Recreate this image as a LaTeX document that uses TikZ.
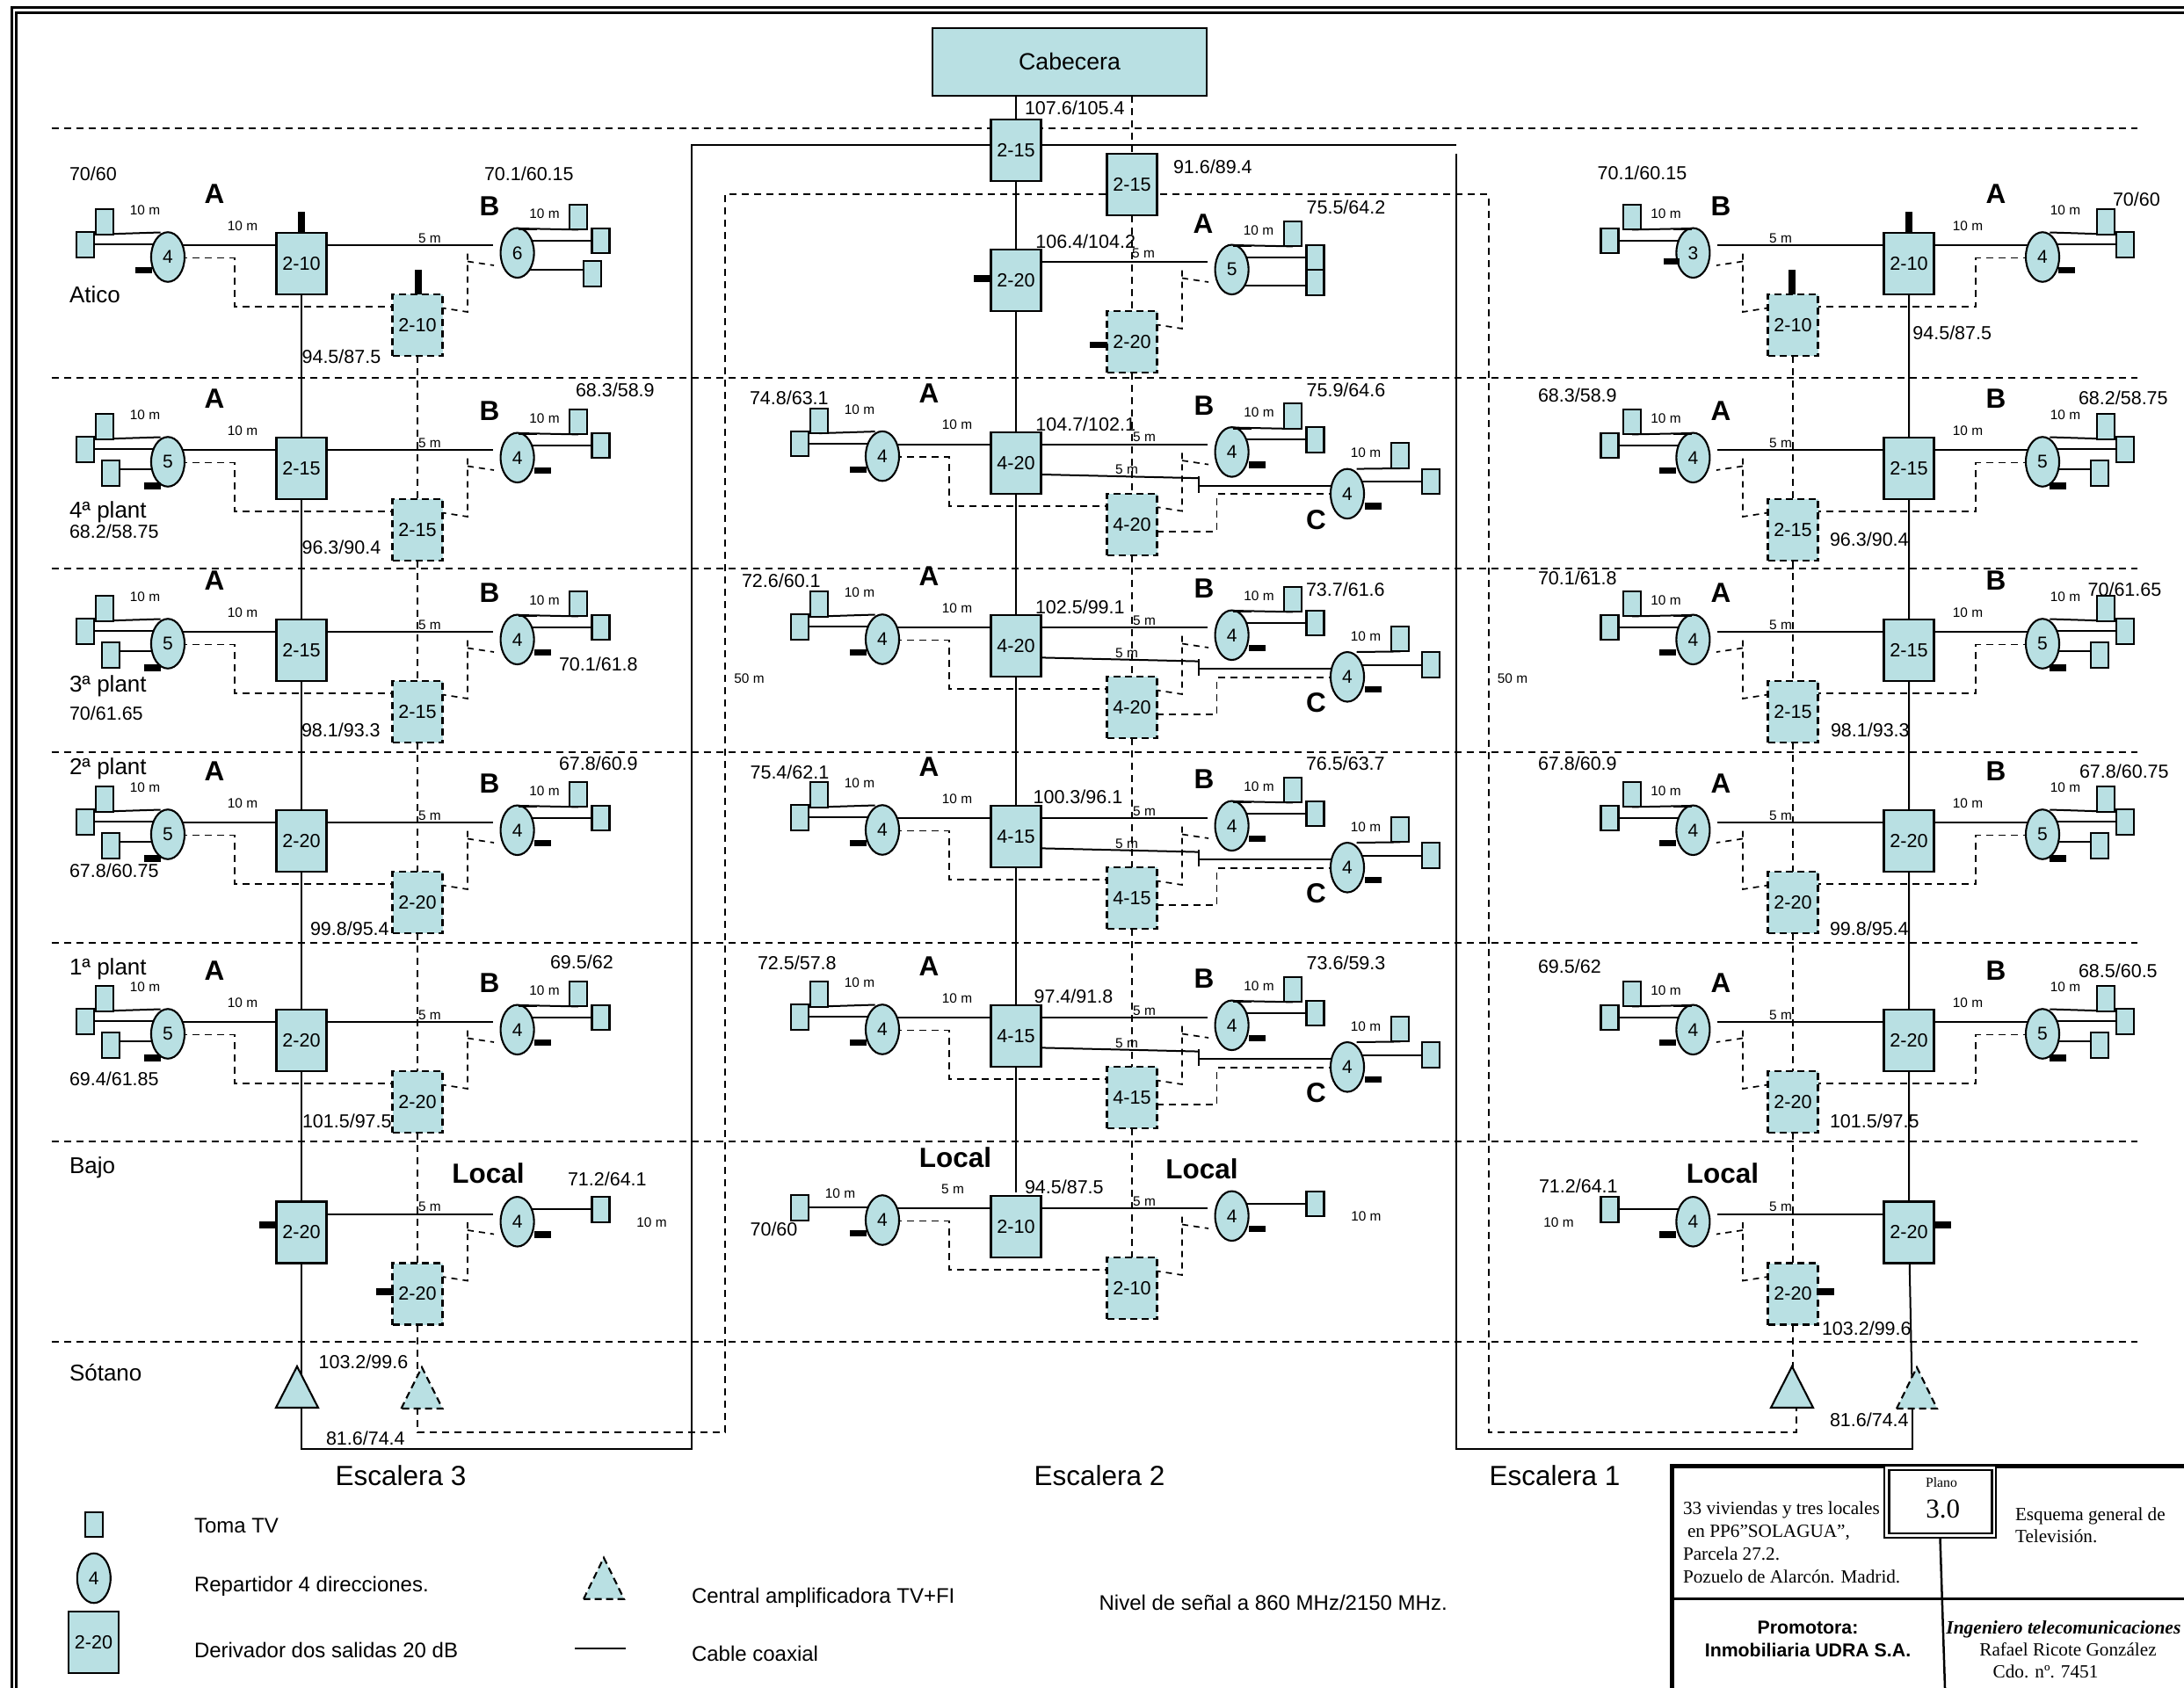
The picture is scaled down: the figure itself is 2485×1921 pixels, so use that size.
\documentclass[tikz,border=0pt]{standalone}
\usepackage{fontspec}
\setmainfont{Liberation Sans}
\newfontfamily\timf{Liberation Serif}
\usetikzlibrary{calc}
\pgfdeclarelayer{background}
\pgfsetlayers{background,main}
\definecolor{teal1}{RGB}{185,224,227}
\newcounter{lbc}
\newcommand\Fs[1]{\fontsize{#1}{#1}\selectfont}
\tikzset{
  lab/.style={inner sep=0pt,outer sep=0pt,text depth=0pt,align=left},
  w/.style={line width=2pt,black},
  dsh/.style={line width=1.9pt,black,dash pattern=on 8pt off 6pt},
  thn/.style={line width=1.7pt,black,dash pattern=on 7pt off 6pt},
  mbox/.style={draw=black,line width=2.1pt,fill=teal1,minimum width=57pt,minimum height=70pt,inner sep=0pt,outer sep=0pt,font=\Fs{21.6}},
  dbox/.style={mbox,dash pattern=on 8pt off 5pt},
  sok/.style={draw=black,line width=2.1pt,fill=teal1,minimum width=20pt,minimum height=28.6pt,inner sep=0pt,outer sep=0pt},
  spl/.style={draw=black,line width=2.1pt,fill=teal1,ellipse,minimum width=38pt,minimum height=56.5pt,inner sep=0pt,outer sep=0pt,font=\Fs{21}},
  tri/.style={draw=black,line width=2.1pt,fill=teal1,line join=miter},
  dtri/.style={tri,dash pattern=on 8pt off 5pt},
}
\usetikzlibrary{shapes.geometric}
\newcommand\Wr[1]{\begin{pgfonlayer}{background}#1\end{pgfonlayer}}
\newcommand\LT[4]{\stepcounter{lbc}\node[lab,anchor=west] (t\arabic{lbc}) at (#1,#2) {\Fs{#3}#4};}
\newcommand\LV[3]{\LT{#1}{#2}{21.5}{#3}}
\newcommand\LM[3]{\stepcounter{lbc}\node[lab] (t\arabic{lbc}) at (#1,#2) {\Fs{15.4}#3};}
\newcommand\LH[3]{\stepcounter{lbc}\node[lab] (t\arabic{lbc}) at (#1,#2) {\Fs{31.5}\bfseries #3};}
\newcommand\Pair[2]{%
  \node[mbox] (#1m) at (343,35) {#2};
  \node[dbox] (#1d) at (475,105) {#2};}
\newcommand\LSide[2]{%
  \node[spl] (#1el) at (191,27.5) {#2};
  \coordinate (#1q) at (267,28.5);
  \coordinate (#1r) at (267,84);
  \Wr{\draw[w] (#1el |- 0,14) -- (#1m |- 0,14);
      \draw[dsh] (#1el |- 0,28.5) -- (#1q) -- (#1r) -- (#1d |- 0,84);}}
\newcommand\LA[1]{%
  \node[sok] (#1A) at (119,-12.7) {};
  \coordinate (#1Ae) at (182.6,-0.5);
  \Wr{\draw[w] (#1A |- 0,1.5) -- (#1Ae);}}
\newcommand\LB[1]{%
  \node[sok] (#1B) at (97,13.5) {};
  \Wr{\draw[w] (#1B |- 0,13.2) -- (#1el |- 0,13.2);}}
\newcommand\LC[1]{%
  \node[sok] (#1C) at (125.7,40.7) {};
  \Wr{\draw[w] (#1C |- 0,35.7) -- (#1el |- 0,35.7);}}
\newcommand\LSa{\fill (154,39) rectangle (173,46);}
\newcommand\LSb{\fill (163.7,51) rectangle (182.6,59);}
\newcommand\RSide[2]{%
  \node[spl] (#1er) at (588.6,22.8) {#2};
  \coordinate (#1e) at (561,14);
  \coordinate (#1s) at (532,90);
  \coordinate (#1u) at (532,22);
  \coordinate (#1v) at (532,32.5);
  \coordinate (#1x) at (562,37);
  \Wr{\draw[w] (#1m |- 0,14) -- (#1e);
      \draw[thn] (#1d |- 0,81) -- (#1s) -- (#1u);
      \draw[thn] (#1v) -- (#1x);}}
\newcommand\RA[1]{%
  \node[sok] (#1R) at (658,-18) {};
  \coordinate (#1Rb) at (590,-5);
  \fill (590,-5.2) rectangle (611,-3);
  \Wr{\draw[w] (#1Rb) -- (#1R |- 0,-3.6);}}
\newcommand\RB[1]{%
  \node[sok] (#1S) at (683.5,9) {};
  \Wr{\draw[w] (#1er |- 0,8.8) -- (#1S |- 0,8.8);}}
\newcommand\RC[1]{%
  \node[sok] (#1T) at (673.7,46.5) {};
  \Wr{\draw[w] (#1er |- 0,42) -- (#1T |- 0,42);}}
\newcommand\RD[1]{%
  \node[sok] (#1U) at (683.5,37.7) {};
  \Wr{\draw[w] (#1er |- 0,41) -- (#1U |- 0,41);}}
\newcommand\RStub{\fill (608,33.6) rectangle (627,41);}
\newcommand\CSide[1]{%
  \node[spl] (#1ec) at (720,70.3) {4};
  \node[sok] (#1P) at (780.3,27) {};
  \node[sok] (#1Q) at (815.3,56.5) {};
  \fill (740,80.8) rectangle (759,88.4);
  \coordinate (#1g) at (551,52.6);
  \coordinate (#1h) at (551,50.4);
  \coordinate (#1i) at (551,69);
  \coordinate (#1j) at (551,61);
  \coordinate (#1k) at (730.5,42);
  \coordinate (#1n) at (571.5,113.2);
  \coordinate (#1o) at (571.5,70.7);
  \Wr{\draw[w] (#1m |- 0,47.7) -- (#1g);
      \draw[w] (#1h) -- (#1i);
      \draw[w] (#1j) -- (#1ec |- 0,61);
      \draw[w] (#1k) -- (#1P |- 0,41.4);
      \draw[w] (#1ec |- 0,56.8) -- (#1Q |- 0,56.8);
      \draw[dsh] (#1d |- 0,113.2) -- (#1n) -- (#1o) -- (#1ec |- 0,70.7);}
  \LM{469}{43}{5 m}\LM{741}{24}{10 m}\LH{684.5}{99.4}{C}}
\newcommand\LLab[1]{\LH{244}{-44}{#1}\LM{165}{-25.5}{10 m}\LM{276}{-8}{10 m}}
\newcommand\RLab[1]{\LH{557}{-30}{#1}\LM{619.5}{-22}{10 m}\LM{489}{6}{5 m}}
\newcommand\FloorFive[4]{%
  \begin{scope}[#1]
    \Pair{#2}{#3}
    \LSide{#2}{5}\LA{#2}\LB{#2}\LC{#2}\LSb
    \RSide{#2}{4}\RA{#2}\RB{#2}\RStub
    #4
  \end{scope}}
\newcommand\FloorC[3]{%
  \begin{scope}[shift={(813,#1)}]
    \Pair{#2}{#3}
    \LSide{#2}{4}\LA{#2}\LB{#2}\LSa
    \RSide{#2}{4}\RA{#2}\RB{#2}\RStub
    \CSide{#2}
    \LLab{A}\RLab{B}
  \end{scope}}
\newcommand\Tri[5]{%
  \draw[#5] (#2-#3,#4+47) -- (#2,#4) -- (#2+#3,#4+47) -- cycle;
  \coordinate (#1) at (#2,#4+47);}
\begin{document}
\begin{tikzpicture}[x=1pt,y=-1pt]
\useasboundingbox (0,0) rectangle (2485,1921);
\begin{pgfonlayer}{background}
\fill[white] (0,0) rectangle (2485,1921);
\draw[line width=3pt] (13,1921) -- (13,8.5) -- (2485,8.5);
\draw[line width=3pt] (18.5,1921) -- (18.5,14.5) -- (2485,14.5);
\foreach \yy in {146,430,647,856,1073,1299,1527}
  \draw[dsh] (58.5,\yy) -- (2432,\yy);
\end{pgfonlayer}

% ---------- Left block
\begin{scope}[shift={(0,265)}]
  \Pair{LA}{2-10}
  \LSide{LA}{4}\LA{LA}\LB{LA}\LSa
  \RSide{LA}{6}\RA{LA}\RB{LA}\RC{LA}
  \fill (339,-24) rectangle (347,0);
  \fill (472,42) rectangle (480,70);
  \LLab{A}\RLab{B}
\end{scope}
\FloorFive{shift={(0,498)}}{LF}{2-15}{\LLab{A}\RLab{B}}
\FloorFive{shift={(0,705)}}{LT}{2-15}{\LLab{A}\RLab{B}}
\FloorFive{shift={(0,922)}}{LS}{2-20}{\LLab{A}\RLab{B}}
\FloorFive{shift={(0,1149)}}{LP}{2-20}{\LLab{A}\RLab{B}}
\begin{scope}[shift={(0,1367.5)}]
  \Pair{LB}{2-20}
  \RSide{LB}{4}\RB{LB}\RStub
  \fill (295,22.5) rectangle (314,30.5);
  \fill (428,98.5) rectangle (448,106.5);
  \LM{489}{6}{5 m}
\end{scope}
\Tri{Ls}{338}{24}{1555}{tri}
\Tri{Ld}{480}{23.5}{1556}{dtri}

% ---------- Right block (mirror)
\begin{scope}[shift={(2515,265)},xscale=-1]
  \Pair{RA}{2-10}
  \LSide{RA}{4}\LA{RA}\LB{RA}\LSa
  \RSide{RA}{3}\RA{RA}\RB{RA}
  \fill (604,29) rectangle (622,36);
  \fill (339,-24) rectangle (347,0);
  \fill (472,42) rectangle (480,70);
  \LLab{A}\RLab{B}
\end{scope}
\FloorFive{shift={(2515,498)},xscale=-1}{RF}{2-15}{\LLab{B}\RLab{A}}
\FloorFive{shift={(2515,705)},xscale=-1}{RT}{2-15}{\LLab{B}\RLab{A}}
\FloorFive{shift={(2515,922)},xscale=-1}{RS}{2-20}{\LLab{B}\RLab{A}}
\FloorFive{shift={(2515,1149)},xscale=-1}{RP}{2-20}{\LLab{B}\RLab{A}}
\begin{scope}[shift={(2515,1367.5)},xscale=-1]
  \Pair{RB}{2-20}
  \RSide{RB}{4}\RB{RB}\RStub
  \fill (295,22.5) rectangle (314,30.5);
  \fill (428,98.5) rectangle (448,106.5);
  \LM{489}{6}{5 m}
\end{scope}
\Tri{Rs}{2039}{24}{1555}{tri}
\Tri{Rd}{2181}{23}{1556}{dtri}

% ---------- Centre block
\node[mbox,minimum width=312pt,minimum height=76.6pt,font=\Fs{26.7}] (Cab) at (1217,70.3) {Cabecera};
\node[mbox] (T1) at (1156,171.3) {2-15};
\node[mbox] (T2) at (1288,209.6) {2-15};
\begin{scope}[shift={(813,284)}]
  \Pair{CA}{2-20}
  \RSide{CA}{5}\RA{CA}\RB{CA}\RD{CA}
  \fill (295,28.7) rectangle (314,36.7);
  \fill (427,104.5) rectangle (447,112);
  \LH{556}{-29.4}{A}\LM{619}{-21.4}{10 m}\LM{488}{4.7}{5 m}
\end{scope}
\FloorC{491.6}{CF}{4-20}
\FloorC{700}{CT}{4-20}
\FloorC{917}{CS}{4-15}
\FloorC{1144}{CP}{4-15}
\begin{scope}[shift={(813,1361)}]
  \Pair{CB}{2-10}
  \LSide{CB}{4}\LB{CB}\LSa
  \RSide{CB}{4}\RB{CB}\RStub
  \LM{489}{6}{5 m}
\end{scope}

% ---------- Risers and loops
\coordinate (Lc1) at (787,164.6);
\coordinate (Lc2) at (787,1649);
\coordinate (Lc3) at (343,1649);
\coordinate (Rc0) at (1657,164.6);
\coordinate (Rc1) at (1657,175);
\coordinate (Rc2) at (1657,1649);
\coordinate (Rc3) at (2176,1649);
\coordinate (Rc4) at (2176,1602);
\coordinate (Dc1) at (475,1630);
\coordinate (Dc2) at (825,1630);
\coordinate (Dc3) at (825,221.4);
\coordinate (Dc4) at (1694,221.4);
\coordinate (Dc5) at (1694,1630);
\coordinate (Dc6) at (2044,1630);
\coordinate (Dc7) at (2044,1602);
\coordinate (Dc0) at (475,1602);
\coordinate (Ce) at (1156,1357);
\begin{pgfonlayer}{background}
\draw[w] (T1 |- Cab.south) -- (T1) -- (CAm) -- (CFm) -- (CTm) -- (CSm) -- (CPm) -- (Ce);
\draw[dsh] (T2 |- Cab.south) -- (T2) -- (CAd) -- (CFd) -- (CTd) -- (CSd) -- (CPd) -- (CBd);
\draw[w] (LAm) -- (LFm) -- (LTm) -- (LSm) -- (LPm) -- (LBm) -- (LBm |- Ls);
\draw[dsh] (LAd) -- (LFd) -- (LTd) -- (LSd) -- (LPd) -- (LBd) -- (LBd |- Ls);
\draw[w] (RAm) -- (RFm) -- (RTm) -- (RSm) -- (RPm) -- (RBm) -- (Rc4);
\draw[dsh] (RAd) -- (RFd) -- (RTd) -- (RSd) -- (RPd) -- (RBd) -- (RBd |- Rs);
\draw[w] (LBm |- Ls) -- (Lc3) -- (Lc2) -- (Lc1) -- (T1 |- Lc1) -- (Rc0);
\draw[w] (Rc1) -- (Rc2) -- (Rc3) -- (Rc4);
\draw[dsh] (Dc0) -- (Dc1) -- (Dc2) -- (Dc3) -- (Dc4) -- (Dc5) -- (Dc6) -- (Dc7);
\end{pgfonlayer}

% ---------- Labels, left block
\LV{79}{198}{70/60}
\LV{551}{198}{70.1/60.15}
\LT{79}{334.6}{26}{Atico}
\LV{343.6}{406}{94.5/87.5}
\LV{655}{443.6}{68.3/58.9}
\LT{79}{580}{26}{4ª plant}
\LV{79}{605}{68.2/58.75}
\LV{343.6}{623}{96.3/90.4}
\LV{636}{756}{70.1/61.8}
\LT{79}{778}{26}{3ª plant}
\LV{79}{811.5}{70/61.65}
\LV{343}{830.5}{98.1/93.3}
\LV{636}{868.6}{67.8/60.9}
\LT{79}{872}{26}{2ª plant}
\LV{79}{991}{67.8/60.75}
\LV{353}{1057}{99.8/95.4}
\LV{626}{1095}{69.5/62}
\LT{79}{1100}{26}{1ª plant}
\LV{79}{1228}{69.4/61.85}
\LV{344}{1276}{101.5/97.5}
\LT{79}{1326}{26}{Bajo}
\LH{555.5}{1335}{Local}
\LV{646}{1342}{71.2/64.1}
\LM{741.5}{1391}{10 m}
\LV{362.6}{1550}{103.2/99.6}
\LT{79}{1562}{26}{Sótano}
\LV{371}{1636.5}{81.6/74.4}
% ---------- Labels, centre
\LV{1166}{123}{107.6/105.4}
\LV{1335}{189.4}{91.6/89.4}
\LV{1486.6}{235.7}{75.5/64.2}
\LV{1178.4}{275}{106.4/104.2}
\LV{853}{453}{74.8/63.1}
\LV{1178.4}{483}{104.7/102.1}
\LV{1486.6}{444}{75.9/64.6}
\LV{844}{660.7}{72.6/60.1}
\LV{1178}{691}{102.5/99.1}
\LV{1486}{671}{73.7/61.6}
\LV{853.6}{878.7}{75.4/62.1}
\LV{1175.6}{906.7}{100.3/96.1}
\LV{1486}{869}{76.5/63.7}
\LV{862}{1096}{72.5/57.8}
\LV{1176.6}{1134}{97.4/91.8}
\LV{1486.7}{1096}{73.6/59.3}
\LH{1087}{1317}{Local}
\LH{1367.4}{1330}{Local}
\LM{1084}{1352.7}{5 m}
\LM{956}{1358}{10 m}
\LV{853.6}{1399}{70/60}
\LV{1166}{1351}{94.5/87.5}
\LM{1554.4}{1384.6}{10 m}
\LM{852.5}{771.7}{50 m}
\LM{1721}{772}{50 m}
% ---------- Labels, right block
\LV{1817.6}{197}{70.1/60.15}
\LV{2404}{226.8}{70/60}
\LV{2176.4}{378.3}{94.5/87.5}
\LV{1750}{450}{68.3/58.9}
\LV{2365}{453}{68.2/58.75}
\LV{2082}{614}{96.3/90.4}
\LV{1750}{658}{70.1/61.8}
\LV{2375.6}{671}{70/61.65}
\LV{2083}{830.5}{98.1/93.3}
\LV{1750}{868.6}{67.8/60.9}
\LV{2366}{878}{67.8/60.75}
\LV{2082}{1057}{99.8/95.4}
\LV{1750}{1100}{69.5/62}
\LV{2365}{1105}{68.5/60.5}
\LV{2082}{1276}{101.5/97.5}
\LH{1960}{1335}{Local}
\LV{1751}{1350}{71.2/64.1}
\LM{1773.5}{1391}{10 m}
\LV{2073}{1512}{103.2/99.6}
\LV{2082}{1616}{81.6/74.4}
% ---------- Escalera
\node[lab,font=\Fs{31.5}] (e3) at (456,1678.6) {Escalera 3};
\node[lab,font=\Fs{31.5}] (e2) at (1251,1679) {Escalera 2};
\node[lab,font=\Fs{31.5}] (e1) at (1769,1679) {Escalera 1};
% ---------- Legend
\node[sok] (k1) at (106.8,1735) {};
\node[spl] (k2) at (106.8,1796) {4};
\node[mbox] (k3) at (106.5,1869.3) {2-20};
\LT{221}{1736.7}{24}{Toma TV}
\LT{221}{1803}{24}{Repartidor 4 direcciones.}
\LT{221}{1878}{24}{Derivador dos salidas 20 dB}
\Tri{k4}{687}{23}{1772.7}{dtri}
\coordinate (k5) at (654,1876);
\coordinate (k6) at (711.7,1876);
\draw[w] (k5) -- (k6);
\LT{787}{1815.6}{24}{Central amplificadora TV+FI}
\LT{787}{1882}{24}{Cable coaxial}
\LT{1250.6}{1824}{24}{Nivel de señal a 860 MHz/2150 MHz.}
% ---------- Title block
\draw[line width=5pt] (1902,1921) -- (1902,1668) -- (2485,1668);
\draw[line width=3pt] (1902,1819) -- (2485,1819);
\node[draw=black,line width=2.8pt,fill=white,minimum width=127pt,minimum height=82pt,inner sep=0pt,outer sep=0pt] (pa) at (2207.5,1709) {};
\node[draw=black,line width=2.8pt,fill=white,minimum width=117pt,minimum height=72pt,inner sep=0pt,outer sep=0pt] (pb) at (2208,1709) {};
\coordinate (pc) at (2213,1921);
\draw[line width=2.5pt] (pa.south) -- (pc);
\node[lab,font=\timf\Fs{15.7}] (p1) at (2209,1687) {Plano};
\node[lab,font=\timf\Fs{31}] (p2) at (2210.7,1717.5) {3.0};
\LT{1915}{1716.6}{21.2}{\timf 33 viviendas y tres locales}
\LT{1920}{1742.8}{21.2}{\timf en PP6”SOLAGUA”,}
\LT{1915}{1768.5}{21.2}{\timf Parcela 27.2.}
\LT{1915}{1794}{21.2}{\timf Pozuelo de Alarcón. Madrid.}
\LT{2293}{1722.8}{21.2}{\timf Esquema general de}
\LT{2293}{1748}{21.2}{\timf Televisión.}
\node[lab,font=\Fs{21.3}\bfseries] (p3) at (2057,1852) {Promotora:};
\node[lab,font=\Fs{21.3}\bfseries] (p4) at (2057,1878) {Inmobiliaria UDRA S.A.};
\LT{2214.4}{1852}{21.5}{\timf\bfseries\itshape Ingeniero telecomunicaciones}
\node[lab,font=\timf\Fs{21.2}] (p5) at (2353,1877) {Rafael Ricote González};
\LT{2267.7}{1902}{21.2}{\timf Cdo. nº. 7451}
\end{tikzpicture}
\end{document}
